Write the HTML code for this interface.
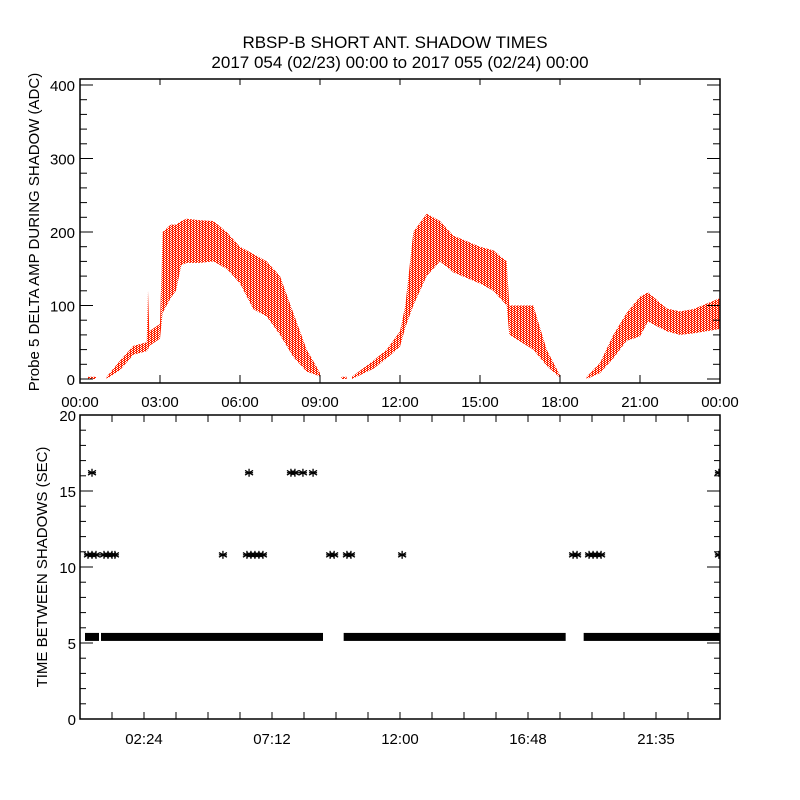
<!DOCTYPE html>
<html><head><meta charset="utf-8"><style>
html,body{margin:0;padding:0;background:#fff;}
svg{display:block;font-family:"Liberation Sans",sans-serif;}
</style></head><body>
<svg id="chart" width="800" height="800" viewBox="0 0 800 800">
<defs>
<pattern id="dots" width="3" height="2" patternUnits="userSpaceOnUse">
<rect x="0" y="0" width="2" height="1" fill="#ff2200"/>
<rect x="1" y="1" width="2" height="1" fill="#ff2200"/>
</pattern>
<clipPath id="botClip"><rect x="80" y="415" width="640" height="304"/></clipPath>
</defs>
<rect width="800" height="800" fill="#fff"/>
<text x="395" y="48" font-size="17" text-anchor="middle">RBSP-B SHORT ANT. SHADOW TIMES</text>
<text x="400" y="68" font-size="17" text-anchor="middle">2017 054 (02/23) 00:00 to 2017 055 (02/24) 00:00</text>
<g id="topPanel"></g>
<g id="botPanel"></g>
</svg>
<script>
// ---- top panel data (hours, ADC) ----
const ampTimes = [0.3,0.6,null,1.0,1.5,2.0,2.5,2.55,2.6,3.0,3.1,3.4,3.6,3.8,4.0,4.5,5.0,5.5,6.0,6.5,7.0,7.5,8.0,8.5,8.9,9.0,null,9.8,10.0,null,10.2,11.0,11.5,12.0,12.2,12.5,13.0,13.5,14.0,15.0,15.5,16.0,16.1,17.0,17.5,17.9,18.0,null,19.0,19.5,20.0,20.5,21.0,21.3,22.0,22.5,23.0,24.0];
const ampLow  = [0,0,null,0,12,33,38,40,45,55,90,110,120,155,158,158,160,150,130,95,85,60,30,10,5,3,null,0,0,null,0,14,28,44,70,100,140,160,145,130,120,100,60,40,18,5,2,null,0,8,28,52,58,78,65,60,62,68];
const ampHigh = [3,3,null,3,25,45,50,120,65,75,200,210,210,215,218,216,215,200,180,170,160,140,90,40,15,8,null,3,3,null,3,25,40,65,100,200,225,215,195,180,175,160,100,100,40,12,5,null,3,22,60,90,112,118,96,92,95,110];
// ---- bottom panel data (hours, seconds) ----
const band54Start = [0.3,0.9,10.0,19.0];
const band54End   = [0.6,9.0,18.1,24.0];
const band54Value = 5.4;
const t108 = [0.3,0.45,0.6,0.9,1.05,1.2,1.31,5.36,6.26,6.41,6.56,6.71,6.86,9.38,9.53,10.01,10.16,12.08,18.49,18.64,19.09,19.24,19.39,19.54,23.96];
const v108 = 10.8;
const t162 = [0.45,6.34,7.91,8.06,8.36,8.74,23.96];
const v162 = 16.2;
const topYTicks = ["0","100","200","300","400"];
const topXTicks = ["00:00","03:00","06:00","09:00","12:00","15:00","18:00","21:00","00:00"];
const botYTicks = ["0","5","10","15","20"];
const botXTicks = ["02:24","07:12","12:00","16:48","21:35"];

const NS="http://www.w3.org/2000/svg";
function mk(parent,tag,attrs,text){const e=document.createElementNS(NS,tag);for(const k in attrs)e.setAttribute(k,attrs[k]);if(text!==undefined)e.textContent=text;parent.appendChild(e);return e;}
const L=80,R=720;
const xS=h=>L+h/24*(R-L);
const tT=79,tB=383;
const yT=v=>379-v*0.735;
const bT=415,bB=719;
const yB=v=>719-v*15.2;

const topG=document.getElementById('topPanel'), botG=document.getElementById('botPanel');

let seg=[];
function flushSeg(){
  if(seg.length>1){
    let d="M"+seg.map(i=>xS(ampTimes[i])+","+yT(ampHigh[i])).join("L");
    d+="L"+seg.slice().reverse().map(i=>xS(ampTimes[i])+","+yT(ampLow[i])).join("L")+"Z";
    const p=mk(topG,'path',{d:d,fill:'url(#dots)'});
    
    
  }
  seg=[];
}
for(let i=0;i<ampTimes.length;i++){ if(ampTimes[i]===null){flushSeg();} else seg.push(i); }
flushSeg();

const tf=mk(topG,'rect',{x:L,y:tT,width:R-L,height:tB-tT,fill:'none',stroke:'#000','stroke-width':1.5});


for(let v=0;v<=400;v+=20){
  const y=yT(v),len=(v%100===0)?13:7;
  mk(topG,'line',{x1:L,x2:L+len,y1:y,y2:y,stroke:'#000'});
  mk(topG,'line',{x1:R,x2:R-len,y1:y,y2:y,stroke:'#000'});
}
topYTicks.forEach((s,i)=>{const t=mk(topG,'text',{x:75,y:yT(i*100)+6,'font-size':15,'text-anchor':'end'},s);
  
  });
topXTicks.forEach((s,i)=>{const x=xS(i*3);
  mk(topG,'line',{x1:x,x2:x,y1:tB,y2:tB-8,stroke:'#000'});
  mk(topG,'line',{x1:x,x2:x,y1:tT,y2:tT+6,stroke:'#000'});
  const t=mk(topG,'text',{x:x,y:407,'font-size':15,'text-anchor':'middle'},s);
  
  });
const tyt=mk(topG,'text',{x:0,y:0,'font-size':15,'text-anchor':'middle',transform:'translate(39,232) rotate(-90)'},'Probe 5 DELTA AMP DURING SHADOW (ADC)');



const bf=mk(botG,'rect',{x:L,y:bT,width:R-L,height:bB-bT,fill:'none',stroke:'#000','stroke-width':1.5});


for(let v=0;v<=20;v++){
  const y=yB(v),len=(v%5===0)?13:6;
  mk(botG,'line',{x1:L,x2:L+len,y1:y,y2:y,stroke:'#000'});
  mk(botG,'line',{x1:R,x2:R-len,y1:y,y2:y,stroke:'#000'});
}
for(let k=1;k<20;k++){const x=xS(k*1.2);
  mk(botG,'line',{x1:x,x2:x,y1:bB,y2:bB-7,stroke:'#000'});
  mk(botG,'line',{x1:x,x2:x,y1:bT,y2:bT+7,stroke:'#000'});}
botYTicks.forEach((s,i)=>{const t=mk(botG,'text',{x:76,y:yB(i*5)+6,'font-size':15,'text-anchor':'end'},s);
  
  });
botXTicks.forEach((s,i)=>{const t=mk(botG,'text',{x:xS(2.4+i*4.8),y:744,'font-size':15,'text-anchor':'middle'},s);
  
  });
const byt=mk(botG,'text',{x:0,y:0,'font-size':15,'text-anchor':'middle',transform:'translate(47,567) rotate(-90)'},'TIME BETWEEN SHADOWS (SEC)');



const dataG=mk(botG,'g',{'clip-path':'url(#botClip)'});


band54Start.forEach((s,i)=>{
  const r=mk(dataG,'rect',{x:xS(s)-3,y:yB(band54Value)-4,width:xS(band54End[i])-xS(s)+6,height:8,fill:'#000'});
  
  
});
function star(x,y,name){
  const g=mk(dataG,'g',{stroke:'#000','stroke-width':1.3});
  
  
  mk(g,'line',{x1:x,x2:x,y1:y-4,y2:y+4});
  mk(g,'line',{x1:x-4,x2:x+4,y1:y-2.3,y2:y+2.3});
  mk(g,'line',{x1:x-4,x2:x+4,y1:y+2.3,y2:y-2.3});
  mk(g,'line',{x1:x-4,x2:x+4,y1:y,y2:y});
}
t108.forEach(t=>star(xS(t),yB(v108),'interval-11s-point'));
t162.forEach(t=>star(xS(t),yB(v162),'interval-16s-point'));
</script>
</body></html>
